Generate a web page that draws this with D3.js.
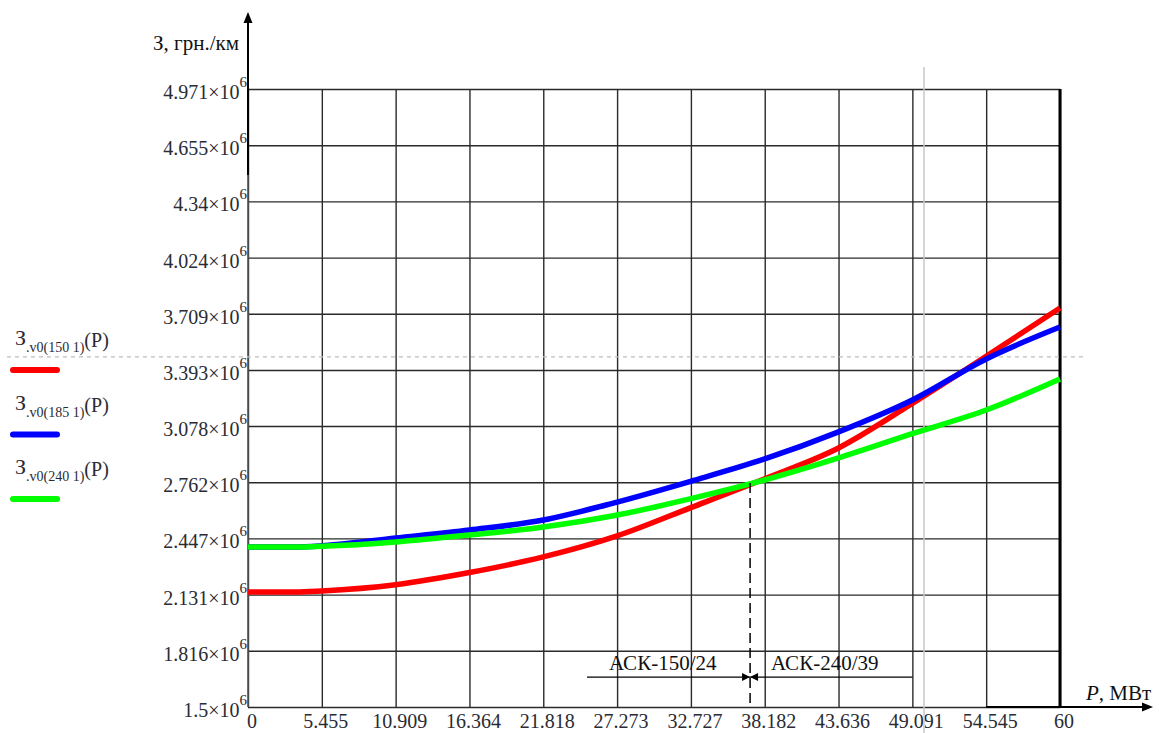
<!DOCTYPE html>
<html>
<head>
<meta charset="utf-8">
<script src="https://cdn.jsdelivr.net/npm/d3@7"></script>
<style>
  body { margin: 0; background: #fff; }
  text { font-family: "Liberation Serif", "Times New Roman", serif; }
</style>
</head>
<body>
<div id="chart"></div>
<script>
// tick values as printed on the axes
const pTicks = [0, 5.455, 10.909, 16.364, 21.818, 27.273, 32.727, 38.182, 43.636, 49.091, 54.545, 60];
const zTicks = [1.5, 1.816, 2.131, 2.447, 2.762, 3.078, 3.393, 3.709, 4.024, 4.34, 4.655, 4.971];

// curve samples, P in MW, З in 10^6 грн./км
const pPoints = [0, 3.5, 5.455, 10.909, 16.364, 21.818, 27.273, 32.727, 38.182, 43.636, 49.091, 54.545, 60];
const z150 = [2.146, 2.146, 2.152, 2.187, 2.255, 2.343, 2.461, 2.620, 2.782, 2.955, 3.205, 3.470, 3.741];
const z185 = [2.399, 2.399, 2.405, 2.449, 2.494, 2.550, 2.651, 2.768, 2.893, 3.045, 3.224, 3.455, 3.634];
const z240 = [2.399, 2.399, 2.403, 2.427, 2.466, 2.511, 2.578, 2.670, 2.775, 2.899, 3.035, 3.168, 3.342];

const seriesNames = ['150 1', '185 1', '240 1'];
const seriesColors = ['#ff0000', '#0000ff', '#00ff00'];

// annotation: boundary between АСК-150/24 and АСК-240/39
const boundaryP = 37.1;
const boundaryZ = 2.758;
const arrowFrom = 25.05, arrowTo = 49.1, arrowZ = 1.668;
const cursorP = 49.95, cursorZ = 3.466;

const width = 1159, height = 733;
const plotLeft = 248, plotRight = 1060, plotTop = 89, plotBottom = 707;

const svg = d3.select('#chart').append('svg')
    .attr('width', width)
    .attr('height', height);

const x = d3.scaleLinear().domain([0, 60]).range([plotLeft, plotRight]);
const y = d3.scaleLinear().domain([1.5, 4.971]).range([plotBottom, plotTop]);

// grid
svg.append('g')
    .attr('transform', `translate(0,${plotBottom})`)
    .call(d3.axisBottom(x).tickValues(pTicks).tickSize(-(plotBottom - plotTop)).tickFormat(''))
    .call(g => g.select('.domain').remove())
    .selectAll('line').attr('stroke', '#2a2a2a').attr('stroke-width', 1.4);

svg.append('g')
    .attr('transform', `translate(${plotLeft},0)`)
    .call(d3.axisLeft(y).tickValues(zTicks).tickSize(-(plotRight - plotLeft)).tickFormat(''))
    .call(g => g.select('.domain').remove())
    .selectAll('line').attr('stroke', '#2a2a2a').attr('stroke-width', 1.4);

// frame
svg.append('line').attr('x1', plotLeft).attr('x2', plotLeft).attr('y1', plotTop).attr('y2', plotBottom)
    .attr('stroke', '#555').attr('stroke-width', 1.6);
svg.append('line').attr('x1', plotRight).attr('x2', plotRight).attr('y1', plotTop).attr('y2', plotBottom)
    .attr('stroke', '#000').attr('stroke-width', 3);

// y tick labels with ×10^6
svg.append('g').selectAll('text')
    .data(zTicks)
    .join('text')
    .attr('x', plotLeft - 1)
    .attr('y', d => y(d) + 10)
    .attr('text-anchor', 'end')
    .attr('font-size', 20)
    .attr('fill', '#2b2b33')
    .each(function(d) {
        const t = d3.select(this);
        t.append('tspan').text(d + '×10');
        t.append('tspan').attr('dy', -12).attr('font-size', 15).text('6');
    });

// x tick labels
svg.append('g').selectAll('text')
    .data(pTicks)
    .join('text')
    .attr('x', d => x(d) + 4)
    .attr('y', 728)
    .attr('text-anchor', 'middle')
    .attr('font-size', 20)
    .attr('fill', '#2b2b33')
    .text(d => d);

// light cursor lines
svg.append('line').attr('x1', x(cursorP)).attr('x2', x(cursorP)).attr('y1', 67).attr('y2', height)
    .attr('stroke', '#c8c8c8').attr('stroke-width', 1.5);
svg.append('line').attr('x1', 7).attr('x2', 1084).attr('y1', y(cursorZ)).attr('y2', y(cursorZ))
    .attr('stroke', '#c0c0c0').attr('stroke-width', 1.3).attr('stroke-dasharray', '4,4');

// curves
const line = d3.line()
    .x((d, i) => x(pPoints[i]))
    .y(d => y(d))
    .curve(d3.curveMonotoneX);

[z150, z185, z240].forEach((s, i) => {
    svg.append('path')
        .datum(s)
        .attr('d', line)
        .attr('fill', 'none')
        .attr('stroke', seriesColors[i])
        .attr('stroke-width', 5.5);
});

// axis arrows
svg.append('line').attr('x1', plotLeft).attr('x2', plotLeft).attr('y1', 20).attr('y2', 175)
    .attr('stroke', '#000').attr('stroke-width', 2);
svg.append('path').attr('d', `M${plotLeft},12 L${plotLeft - 4.5},23 L${plotLeft + 4.5},23 Z`).attr('fill', '#000');
svg.append('line').attr('x1', x(54.545)).attr('x2', 1144).attr('y1', plotBottom).attr('y2', plotBottom)
    .attr('stroke', '#000').attr('stroke-width', 2.2);
svg.append('path').attr('d', `M1153,${plotBottom} L1142,${plotBottom - 4.5} L1142,${plotBottom + 4.5} Z`).attr('fill', '#000');

// axis titles
svg.append('text').attr('x', 239).attr('y', 50).attr('text-anchor', 'end')
    .attr('font-size', 21).attr('fill', '#111').text('З, грн./км');
const pt = svg.append('text').attr('x', 1086).attr('y', 700).attr('font-size', 21).attr('fill', '#111');
pt.append('tspan').attr('font-style', 'italic').text('P');
pt.append('tspan').text(', МВт');

// annotation
svg.append('line').attr('x1', x(boundaryP)).attr('x2', x(boundaryP))
    .attr('y1', y(boundaryZ)).attr('y2', plotBottom)
    .attr('stroke', '#000').attr('stroke-width', 1.5).attr('stroke-dasharray', '10,5');
svg.append('line').attr('x1', x(arrowFrom)).attr('x2', x(arrowTo))
    .attr('y1', y(arrowZ)).attr('y2', y(arrowZ))
    .attr('stroke', '#000').attr('stroke-width', 1.3);
const bx = x(boundaryP), by = y(arrowZ);
svg.append('path').attr('d', `M${bx},${by} L${bx - 8},${by - 4} L${bx - 8},${by + 4} Z`).attr('fill', '#000');
svg.append('path').attr('d', `M${bx},${by} L${bx + 8},${by - 4} L${bx + 8},${by + 4} Z`).attr('fill', '#000');
svg.append('text').attr('x', 609).attr('y', 670).attr('font-size', 21).attr('fill', '#111').text('АСК-150/24');
svg.append('text').attr('x', 771).attr('y', 670).attr('font-size', 21).attr('fill', '#111').text('АСК-240/39');

// legend
const legend = svg.append('g').selectAll('g')
    .data(seriesNames)
    .join('g')
    .attr('transform', (d, i) => `translate(0,${i * 64.5})`);

legend.append('text')
    .attr('x', 15)
    .attr('y', 345)
    .attr('fill', '#2b2b33')
    .each(function(d) {
        const t = d3.select(this);
        t.append('tspan').attr('font-size', 22).text('З');
        t.append('tspan').attr('font-size', 14).attr('dy', 7).text('.v0(' + d + ')');
        t.append('tspan').attr('font-size', 20).attr('dy', -5).text('(P)');
    });

legend.append('line')
    .attr('x1', 13).attr('x2', 57)
    .attr('y1', 370).attr('y2', 370)
    .attr('stroke', (d, i) => seriesColors[i])
    .attr('stroke-width', 6)
    .attr('stroke-linecap', 'round');
</script>
</body>
</html>
